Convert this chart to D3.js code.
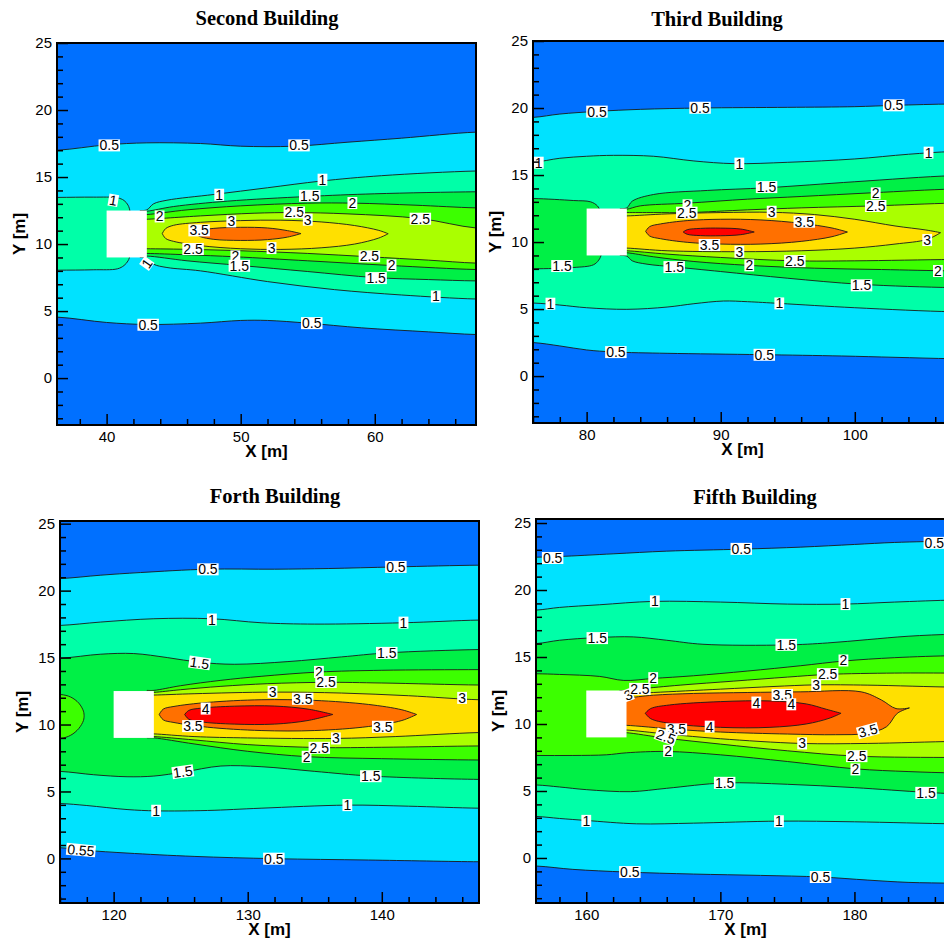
<!DOCTYPE html>
<html>
<head>
<meta charset="utf-8">
<script src="https://cdn.jsdelivr.net/npm/d3@7"></script>
<style>
  body { margin: 0; background: #fff; }
  svg { display: block; }
</style>
</head>
<body>
<div id="chart"></div>
<script>
// contour levels of the plotted quantity
var levels = [0.5, 1, 1.5, 2, 2.5, 3, 3.5, 4];

var panelTitles = ["Second Building", "Third Building", "Forth Building", "Fifth Building"];
var buildingX = [40, 80, 120, 160];     // left face of each building [m]
var buildingY = [9, 12.5];              // bottom / top of building [m]

var yTicks = [0, 5, 10, 15, 20, 25];
var xTicksSecond = [40, 50, 60]
  , xTicksThird = [80, 90, 100]
  , xTicksFourth = [120, 130, 140]
  , xTicksFifth = [160, 170, 180];

// contour bands: region >= lv bounded by top and bot lines [x, y]
var secondBands = [
  {lv: 0.5, top: [[36.3,17.0],[40,17.4],[43,17.55],[47,17.5],[50,17.3],[54,17.3],[58,17.6],[62,17.9],[67.55,18.35]],
            bot: [[36.3,4.55],[40,4.15],[43,4.0],[47,4.1],[50,4.3],[52,4.3],[55,4.1],[59,3.75],[64,3.45],[67.55,3.25]]},
  {lv: 1, top: [[36.3,13.48],[39,13.5],[40.8,13.45],[41.3,13.25],[41.6,12.9],[41.75,12.4],[41.8,11]],
          bot: [[36.3,8.05],[39,8.08],[40.8,8.15],[41.3,8.4],[41.6,8.75],[41.75,9.2],[41.8,10.5]]},
  {lv: 1, top: [[42.5,12.5],[43.0,12.55],[43.5,13.0],[44.5,13.27],[48,13.7],[52,14.2],[56,14.7],[60.5,15.1],[67.55,15.45]],
          bot: [[42.5,9.0],[43.0,8.95],[43.5,8.5],[44.5,8.25],[47,8.0],[52,7.2],[57,6.6],[62,6.2],[67.55,5.9]]},
  {lv: 1.5, top: [[42.5,12.45],[43,12.45],[45,12.8],[49,13.2],[55,13.55],[60,13.75],[67.55,13.9]],
            bot: [[42.5,9.05],[43,9.1],[46,8.75],[50,8.4],[55,7.95],[60,7.5],[64,7.35],[67.55,7.25]]},
  {lv: 2, top: [[42.5,12.2],[43,12.2],[46,12.55],[50,12.85],[55,13.05],[58.5,13.05],[63,12.9],[67.55,12.7]],
          bot: [[42.5,9.3],[43,9.3],[46,9.2],[49.6,9.05],[55,8.75],[61.2,8.4],[67.55,8.1]]},
  {lv: 2.5, top: [[42.5,11.85],[43,11.85],[47,12.1],[51,12.3],[54,12.35],[58,12.25],[63.4,11.9],[67.55,11.2]],
            bot: [[42.5,9.65],[43,9.65],[46.4,9.6],[50,9.5],[55,9.3],[59.6,9.05],[64,8.8],[67.55,8.58]]},
  {lv: 3, top: [[44.15,10.78],[44.4,11.15],[45,11.4],[47,11.62],[50,11.75],[53,11.78],[56,11.65],[58.5,11.38],[60.3,11.02],[61.0,10.77]],
          bot: [[44.15,10.78],[44.4,10.42],[45,10.2],[47,9.88],[50,9.65],[53,9.6],[56,9.72],[58.5,10.0],[60.3,10.45],[61.0,10.77]]},
  {lv: 3.5, top: [[46.6,10.78],[47,11.0],[48,11.17],[50,11.25],[52,11.2],[53.5,11.0],[54.5,10.78]],
            bot: [[46.6,10.78],[47,10.55],[48,10.35],[50,10.27],[52,10.33],[53.5,10.52],[54.5,10.78]]}
];

var thirdBands = [
  {lv: 0.5, top: [[76,19.3],[78,19.55],[80.8,19.75],[84,19.9],[88.5,20.0],[95,20.05],[100,20.1],[103,20.2],[107.25,20.3]],
            bot: [[76,2.5],[78,2.25],[80,1.95],[82,1.8],[86,1.7],[93,1.6],[99,1.5],[103,1.4],[107.25,1.3]]},
  {lv: 1, top: [[76,15.95],[78,16.25],[80,16.4],[82,16.47],[85,16.4],[88,16.05],[91,15.85],[95,15.95],[100,16.2],[104,16.55],[107.25,16.75]],
          bot: [[76,5.45],[78,5.3],[80,5.1],[83,4.98],[86,5.15],[88,5.4],[90.2,5.6],[92,5.55],[94.4,5.42],[100,5.1],[107.25,4.8]]},
  {lv: 1.5, top: [[76,13.25],[79,13.1],[80.3,13.0],[80.8,12.7],[81,12.3],[81.1,11]],
            bot: [[76,8.0],[79,8.1],[80.5,8.3],[80.9,8.65],[81.1,9.1],[81.15,10.5]]},
  {lv: 1.5, top: [[82.5,12.5],[83,12.55],[83.4,13.05],[85,13.55],[89,13.85],[93.4,14.05],[100,14.5],[107.25,14.95]],
            bot: [[82.5,9.0],[83,8.95],[83.4,8.6],[84.5,8.35],[86.5,8.15],[90,7.8],[95,7.3],[100.4,6.85],[107.25,6.6]]},
  {lv: 2, top: [[82.5,12.45],[83,12.45],[84,12.7],[87.5,12.9],[92,13.2],[96,13.4],[101.4,13.68],[107.25,13.95]],
          bot: [[82.5,9.2],[83,9.2],[85,8.9],[88,8.55],[92.1,8.26],[97,8.05],[102,7.95],[107.25,7.85]]},
  {lv: 2.5, top: [[82.5,12.2],[83,12.2],[85,12.2],[87.5,12.2],[92,12.4],[96,12.55],[101.5,12.7],[107.25,12.9]],
            bot: [[82.5,9.35],[83,9.35],[86,9.1],[90,8.85],[95.5,8.6],[100,8.6],[107.25,8.7]]},
  {lv: 3, top: [[82.5,11.95],[83,11.95],[86,12.1],[90,12.2],[93.8,12.22],[97,12.05],[100,11.7],[103,11.2],[105.3,10.9],[106.4,10.7]],
          bot: [[82.5,9.55],[83,9.55],[86,9.35],[91.4,9.28],[96,9.35],[100,9.55],[103,9.85],[105.4,10.2],[106.4,10.7]]},
  {lv: 3.5, top: [[84.4,10.8],[84.7,11.15],[85.5,11.35],[87.5,11.6],[90,11.7],[93,11.65],[96,11.4],[98.3,11.05],[99.45,10.75]],
            bot: [[84.4,10.8],[84.7,10.45],[85.5,10.25],[87.5,9.98],[90,9.85],[93,9.85],[96,10.05],[98.3,10.4],[99.45,10.75]]},
  {lv: 4, top: [[87.2,10.75],[87.5,10.92],[88.5,11.02],[90,11.04],[91.5,10.97],[92.5,10.75]],
          bot: [[87.2,10.75],[87.5,10.58],[88.5,10.48],[90,10.47],[91.5,10.55],[92.5,10.75]]}
];

var fourthBands = [
  {lv: 0.5, top: [[116,20.9],[119,21.15],[122,21.35],[127,21.6],[132,21.6],[136,21.65],[141,21.77],[147.25,21.9]],
            bot: [[116,0.8],[118,0.6],[121,0.4],[126,0.15],[132,-0.02],[139,-0.12],[147.25,-0.25]]},
  {lv: 1, top: [[116,17.4],[119,17.65],[123,17.9],[127.3,17.9],[131,17.6],[135,17.5],[141.6,17.6],[147.25,17.8]],
          bot: [[116,4.1],[118,3.95],[121,3.65],[123.2,3.55],[127,3.58],[131,3.75],[137.4,3.98],[142,3.9],[147.25,3.75]]},
  {lv: 1.5, top: [[116,14.95],[119,15.25],[121.5,15.3],[124,15.0],[126.4,14.65],[129,14.5],[133,14.7],[137,15.05],[140.4,15.35],[147.25,15.6]],
            bot: [[116,6.5],[118.5,6.25],[121,6.1],[123,6.15],[125.2,6.45],[128,6.9],[131,6.85],[135,6.5],[139.2,6.15],[147.25,5.9]]},
  {lv: 2, top: [[116,12.25],[116.8,12.05],[117.4,11.6],[117.75,11.0],[117.8,10.65]],
          bot: [[116,8.95],[116.8,9.2],[117.4,9.7],[117.75,10.3],[117.8,10.65]]},
  {lv: 2, top: [[122.5,12.55],[123,12.55],[125,12.9],[128,13.3],[131,13.6],[135.3,13.92],[140,14.05],[147.25,14.1]],
          bot: [[122.5,9.0],[123,9.0],[126,8.55],[130,8.0],[134.4,7.6],[140,7.45],[147.25,7.35]]},
  {lv: 2.5, top: [[122.5,12.4],[123,12.4],[125,12.6],[128,12.85],[131.5,13.05],[135.8,13.15],[140,13.1],[147.25,12.95]],
            bot: [[122.5,9.1],[123,9.1],[126,8.85],[130,8.5],[135.4,8.28],[140,8.3],[147.25,8.4]]},
  {lv: 3, top: [[122.5,12.2],[123,12.2],[126,12.3],[131.85,12.42],[137,12.35],[142,12.15],[147.25,11.85]],
          bot: [[122.5,9.3],[123,9.3],[126,9.1],[130,9.0],[136.6,8.96],[141,9.1],[147.25,9.4]]},
  {lv: 3.5, top: [[123.4,10.75],[123.7,11.15],[124.5,11.35],[127,11.65],[131,11.85],[135,11.8],[139,11.5],[141.5,11.1],[142.6,10.75]],
            bot: [[123.4,10.75],[123.7,10.35],[124.5,10.15],[127,9.8],[131,9.55],[135,9.55],[139,9.85],[141.5,10.3],[142.6,10.75]]},
  {lv: 4, top: [[125.3,10.75],[125.6,11.05],[126.5,11.22],[129,11.37],[132,11.38],[134.5,11.15],[136.35,10.75]],
          bot: [[125.3,10.75],[125.6,10.4],[126.5,10.2],[129,10.03],[132,10.03],[134.5,10.3],[136.35,10.75]]}
];

var fifthBands = [
  {lv: 0.5, top: [[156.25,22.45],[158,22.5],[162,22.7],[166,22.9],[171.6,23.05],[176,23.2],[180,23.4],[183,23.55],[187.5,23.65]],
            bot: [[156.25,-0.6],[159,-0.85],[163,-1.05],[168,-1.2],[173,-1.3],[177.5,-1.42],[181,-1.65],[184,-1.82],[187.5,-1.88]]},
  {lv: 1, top: [[156.25,18.5],[158,18.7],[161,18.9],[165,19.15],[170,19.1],[175,18.95],[179.3,18.95],[183,19.1],[187.5,19.25]],
          bot: [[156.25,3.1],[158,2.95],[160,2.8],[163.75,2.55],[168,2.6],[174.4,2.75],[180,2.7],[187.5,2.55]]},
  {lv: 1.5, top: [[156.25,16.0],[158,16.25],[160.8,16.45],[163.5,16.5],[166,16.25],[168.7,15.95],[174.9,15.9],[178,16.05],[181,16.3],[184,16.55],[187.5,16.7]],
            bot: [[156.25,5.45],[158,5.3],[160,5.1],[163.3,4.95],[166,5.2],[170.3,5.6],[175,5.5],[180,5.25],[185.3,4.9],[187.5,4.8]]},
  {lv: 2, top: [[156.25,13.75],[158,13.7],[161,13.55],[162.8,13.25],[165,13.4],[168,13.6],[172,13.95],[176,14.35],[179.2,14.7],[183,14.95],[187.5,15.1]],
          bot: [[156.25,7.65],[159,7.65],[161.5,7.7],[163,7.85],[166,7.95],[170,7.7],[175,7.2],[180.1,6.65],[184,6.45],[187.5,6.35]]},
  {lv: 2.5, top: [[162.5,12.5],[163,12.5],[164,12.62],[167,12.9],[171,13.2],[175,13.5],[178,13.7],[183,13.8],[187.5,13.8]],
            bot: [[162.5,9.35],[163,9.35],[165.9,8.95],[170,8.5],[175,8.0],[180.2,7.6],[187.5,7.5]]},
  {lv: 3, top: [[162.5,12.25],[163,12.25],[165,12.35],[170,12.6],[174,12.8],[177.1,12.92],[181,12.9],[187.5,12.75]],
          bot: [[162.5,9.55],[163,9.55],[166,9.25],[170,8.9],[176,8.55],[181,8.55],[187.5,8.7]]},
  {lv: 3.5, top: [[162.5,11.95],[163,11.95],[165,12.15],[168,12.28],[172,12.35],[176,12.4],[180.5,12.4],[182,11.8],[183.1,11.15],[184.1,11.2]],
            bot: [[162.5,9.9],[163,9.9],[166.7,9.6],[170,9.4],[175,9.25],[178.6,9.2],[180.9,9.3],[182.4,9.8],[183.2,10.8],[184.1,11.2]]},
  {lv: 4, top: [[164.4,10.8],[164.8,11.15],[166.2,11.42],[170,11.67],[173.7,11.72],[176.4,11.5],[177.9,11.1],[179,10.8]],
          bot: [[164.4,10.8],[164.8,10.4],[166.2,10.05],[170,9.75],[173.7,9.75],[176.4,10.0],[178.1,10.42],[179,10.8]]}
];

// contour labels: text, x, y, angle
var secondLabels = [
  ["0.5",40.2,17.36,0],["0.5",54.35,17.36,0],["0.5",43.1,3.98,0],["0.5",55.3,4.1,0],
  ["1",40.5,13.26,10],["1",48.4,13.68,0],["1",56.1,14.8,0],["1",64.55,6.09,0],["1",43.0,8.55,-55],
  ["1.5",55.15,13.6,0],["2",49.6,9.08,0],["1.5",49.9,8.38,0],["1.5",60.1,7.46,0],
  ["2",43.95,12.06,0],["2",58.33,13.06,0],["2",61.25,8.41,0],
  ["2.5",54.0,12.36,0],["2.5",63.4,11.89,0],["2.5",46.45,9.63,0],["2.5",59.6,9.08,0],
  ["3",49.3,11.69,0],["3",55.0,11.82,0],["3",52.3,9.7,0],["3.5",46.9,11.02,0]
];
var thirdLabels = [
  ["0.5",80.77,19.73,0],["0.5",88.46,20.02,0],["0.5",102.9,20.2,0],["0.5",82.18,1.79,0],["0.5",93.25,1.59,0],
  ["1",76.43,15.92,0],["1",91.39,15.85,0],["1",105.5,16.67,0],["1",77.3,5.4,0],["1",94.37,5.42,0],
  ["1.5",93.42,14.1,0],["1.5",78.16,8.21,0],["1.5",86.53,8.13,0],["1.5",100.5,6.77,0],
  ["2",87.52,12.74,0],["2.5",87.47,12.19,0],["2",101.56,13.63,0],["2.5",101.56,12.69,0],
  ["3",93.8,12.26,0],["3.5",96.23,11.52,0],["3.5",89.16,9.78,0],["3",91.39,9.28,0],
  ["2",92.13,8.26,0],["2.5",95.53,8.58,0],["3",105.4,10.15,0],["2",106.2,7.84,0]
];
var fourthLabels = [
  ["0.5",127.03,21.59,0],["0.5",141.05,21.77,0],["0.55",117.56,0.62,5],["0.5",131.95,-0.02,0],
  ["1",127.33,17.84,0],["1",141.62,17.61,0],["1",123.17,3.56,0],["1",137.43,3.98,0],
  ["1.5",126.41,14.6,8],["1.5",140.37,15.35,0],["1.5",125.16,6.47,-8],["1.5",139.18,6.14,0],
  ["2",135.31,13.93,0],["2.5",135.84,13.18,0],["3",131.85,12.44,0],["3.5",134.1,11.92,0],["3",145.99,11.99,0],
  ["4",126.86,11.19,0],["3.5",125.91,9.88,0],["3.5",140.07,9.83,0],["3",136.58,8.96,0],
  ["2",134.39,7.59,0],["2.5",135.34,8.26,0]
];
var fifthLabels = [
  ["0.5",157.49,22.39,0],["0.5",171.56,23.07,0],["0.5",185.96,23.52,0],["0.5",163.25,-1.05,0],["0.5",177.47,-1.42,0],
  ["1",165.11,19.15,0],["1",179.33,18.95,0],["1",160.0,2.77,0],["1",174.37,2.74,0],
  ["1.5",160.82,16.41,0],["1.5",174.91,15.91,0],["1.5",170.32,5.61,0],["1.5",185.34,4.86,0],
  ["2",164.99,13.42,0],["2",179.18,14.74,0],["3",163.13,12.17,-20],["2.5",164.0,12.62,0],
  ["2.5",178.0,13.72,0],["3",177.15,12.92,0],["3.5",174.62,12.17,0],
  ["4",172.68,11.6,0],["4",175.29,11.47,0],["4",169.2,9.8,0],["3.5",166.72,9.6,0],
  ["2",166.1,8.0,0],["2.5",165.93,9.05,20],["3",176.1,8.55,0],["3.5",181.0,9.5,-15],
  ["2.5",180.17,7.6,0],["2",180.07,6.61,0]
];

var width = 944, height = 939
  , fillColor = d3.scaleOrdinal()
      .domain([0].concat(levels))
      .range(["#0070ff", "#00e2ff", "#00ffa8", "#00f046", "#3cff00", "#aaff00", "#ffe000", "#ff7000", "#ff0000"])
  ;

var panels = [
  {title: panelTitles[0], bands: secondBands, labels: secondLabels, xTicks: xTicksSecond, bx: buildingX[0],
   left: 57, top: 43, w: 419, h: 382, xd: [36.3, 67.55], yd: [-3.5, 25.0], tx: 267, ty: 25},
  {title: panelTitles[1], bands: thirdBands, labels: thirdLabels, xTicks: xTicksThird, bx: buildingX[1],
   left: 533, top: 41, w: 419, h: 382, xd: [76, 107.25], yd: [-3.5, 25.0], tx: 717, ty: 26},
  {title: panelTitles[2], bands: fourthBands, labels: fourthLabels, xTicks: xTicksFourth, bx: buildingX[2],
   left: 60, top: 521, w: 419, h: 382, xd: [116, 147.25], yd: [-3.33, 25.2], tx: 275, ty: 503},
  {title: panelTitles[3], bands: fifthBands, labels: fifthLabels, xTicks: xTicksFifth, bx: buildingX[3],
   left: 536, top: 519, w: 419, h: 384, xd: [156.25, 187.5], yd: [-3.36, 25.3], tx: 755, ty: 504}
];

var svg = d3.select("#chart").append("svg")
  .attr("width", width)
  .attr("height", height);

svg.append("rect").attr("width", width).attr("height", height).attr("fill", "#fff");

panels.forEach(function (p, pi) {
  var x = d3.scaleLinear().domain(p.xd).range([0, p.w])
    , y = d3.scaleLinear().domain(p.yd).range([p.h, 0])
    , g = svg.append("g").attr("transform", "translate(" + p.left + "," + p.top + ")")
    , clipId = "clip" + pi
    , line = d3.line()
        .x(function (d) { return x(d[0]); })
        .y(function (d) { return y(d[1]); })
        .curve(d3.curveCatmullRom.alpha(0.5))
    ;

  // push open ends past the frame so the clip gives straight edges
  function extend(pts) {
    var out = pts.slice();
    if (out[0][0] <= p.xd[0] + 0.01) out.unshift([p.xd[0] - 3, out[0][1]]);
    if (out[out.length - 1][0] >= p.xd[1] - 0.01) out.push([p.xd[1] + 3, out[out.length - 1][1]]);
    return out;
  }

  function bandPath(b) {
    var top = extend(b.top)
      , bot = extend(b.bot).reverse()
      ;
    return line(top) + "L" + line(bot).slice(1) + "Z";
  }

  g.append("clipPath").attr("id", clipId)
    .append("rect").attr("width", p.w).attr("height", p.h);

  var plot = g.append("g").attr("clip-path", "url(#" + clipId + ")");

  plot.append("rect")
    .attr("width", p.w)
    .attr("height", p.h)
    .attr("fill", fillColor(0));

  plot.selectAll("path.band").data(p.bands)
    .enter().append("path")
      .attr("class", "band")
      .attr("d", bandPath)
      .attr("fill", function (d) { return fillColor(d.lv); })
      .attr("stroke", "none");

  plot.selectAll("path.iso").data(p.bands)
    .enter().append("path")
      .attr("class", "iso")
      .attr("d", bandPath)
      .attr("fill", "none")
      .attr("stroke", "#1a1a1a")
      .attr("stroke-width", 0.9);

  // building
  plot.append("rect")
    .attr("x", x(p.bx))
    .attr("y", y(buildingY[1]))
    .attr("width", x(p.bx + 3) - x(p.bx))
    .attr("height", y(buildingY[0]) - y(buildingY[1]))
    .attr("fill", "#fff");

  // contour labels
  var lab = g.selectAll("g.lab").data(p.labels)
    .enter().append("g")
      .attr("class", "lab")
      .attr("transform", function (d) {
        return "translate(" + x(d[1]) + "," + y(d[2]) + ") rotate(" + d[3] + ")";
      });

  lab.append("rect").attr("fill", "#fff");
  lab.append("text")
    .attr("text-anchor", "middle")
    .attr("y", 5)
    .attr("font-family", "Liberation Sans, Arial, sans-serif")
    .attr("font-size", 14)
    .attr("fill", "#000")
    .text(function (d) { return d[0]; });
  lab.each(function () {
    var t = d3.select(this).select("text").node()
      , w = t.getComputedTextLength() + 2
      ;
    d3.select(this).select("rect")
      .attr("x", -w / 2).attr("y", -6)
      .attr("width", w).attr("height", 12);
  });

  // axes: ticks point inward
  var minorY = d3.range(-3, 26, 1).filter(function (v) { return v % 5 !== 0; })
    , minorX = d3.range(Math.ceil(p.xd[0] / 2) * 2, p.xd[1], 2).filter(function (v) { return v % 10 !== 0; })
    ;

  function styleAxis(sel) {
    sel.select(".domain").remove();
    sel.selectAll("line").attr("stroke", "#000").attr("stroke-width", 1.5);
    sel.selectAll("text")
      .attr("font-family", "Liberation Sans, Arial, sans-serif")
      .attr("font-size", 15)
      .attr("fill", "#000");
  }

  g.append("g")
    .call(d3.axisLeft(y).tickValues(minorY).tickSize(-6).tickFormat(""))
    .call(styleAxis);
  g.append("g")
    .call(d3.axisLeft(y).tickValues(yTicks).tickSize(-11).tickPadding(5))
    .call(styleAxis);
  g.append("g")
    .attr("transform", "translate(0," + p.h + ")")
    .call(d3.axisBottom(x).tickValues(minorX).tickSize(-6).tickFormat(""))
    .call(styleAxis);
  g.append("g")
    .attr("transform", "translate(0," + p.h + ")")
    .call(d3.axisBottom(x).tickValues(p.xTicks).tickSize(-11).tickPadding(6))
    .call(styleAxis);

  g.append("rect")
    .attr("width", p.w)
    .attr("height", p.h)
    .attr("fill", "none")
    .attr("stroke", "#000")
    .attr("stroke-width", 2);

  g.append("text")
    .attr("x", p.w / 2)
    .attr("y", p.h + 32)
    .attr("text-anchor", "middle")
    .attr("font-family", "Liberation Sans, Arial, sans-serif")
    .attr("font-weight", "bold")
    .attr("font-size", 17)
    .text("X [m]");

  g.append("text")
    .attr("transform", "translate(-32," + (p.h / 2) + ") rotate(-90)")
    .attr("text-anchor", "middle")
    .attr("font-family", "Liberation Sans, Arial, sans-serif")
    .attr("font-weight", "bold")
    .attr("font-size", 17)
    .text("Y [m]");

  svg.append("text")
    .attr("x", p.tx)
    .attr("y", p.ty)
    .attr("text-anchor", "middle")
    .attr("font-family", "Liberation Serif, Times New Roman, serif")
    .attr("font-weight", "bold")
    .attr("font-size", 20.5)
    .text(p.title);
});
</script>
</body>
</html>
